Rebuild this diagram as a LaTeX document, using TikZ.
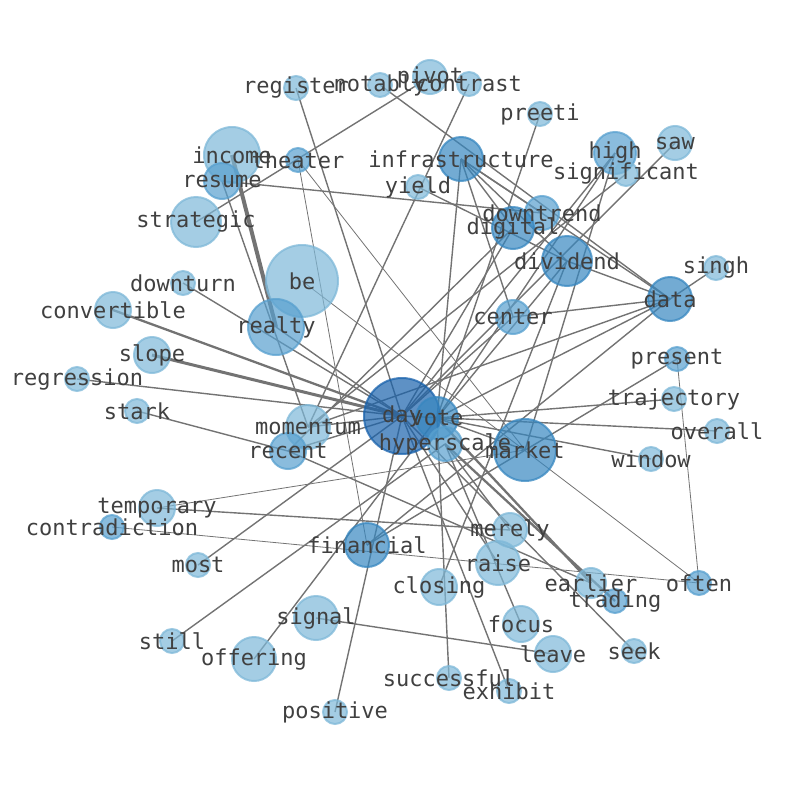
\documentclass[tikz,border=0pt]{standalone}
\usepackage{fontspec}
\newfontfamily\lblfont{DejaVu Sans Mono}
\pgfdeclarelayer{bg}
\pgfdeclarelayer{fg}
\pgfsetlayers{bg,main,fg}
\definecolor{c1}{RGB}{126,184,216}
\definecolor{c2}{RGB}{88,160,207}
\definecolor{c3}{RGB}{55,135,192}
\definecolor{c4}{RGB}{25,98,172}
\definecolor{edgec}{RGB}{115,115,115}
\definecolor{txtc}{RGB}{64,64,64}
\tikzset{
  nd/.style={circle,inner sep=0pt,outer sep=0pt,fill opacity=0.7,draw opacity=0.75,line width=2pt},
  lab/.style={inner sep=0pt,text=txtc,font=\lblfont\fontsize{22}{22}\selectfont},
  ed/.style={draw=edgec,line width=1.4pt},
  edthin/.style={draw=edgec,line width=0.8pt},
  edthick/.style={draw=edgec,line width=2.3pt},
  edheavy/.style={draw=edgec,line width=3pt},
  edhuge/.style={draw=edgec,line width=4pt}
}
\newcommand\N[5]{%
  \node[nd,fill=#5,draw=#5,minimum size={2*#4pt-2pt}] (n#1) at (#2,#3) {};
  \begin{pgfonlayer}{fg}\node[lab] (t#1) at (#2,#3) {#1};\end{pgfonlayer}}
\newcommand\E[3][ed]{\begin{pgfonlayer}{bg}\draw[#1] (n#2.center) -- (n#3.center);\end{pgfonlayer}}
\begin{document}
\begin{tikzpicture}[x=1pt,y=-1pt]
\useasboundingbox (0,0) rectangle (794,790);
\N{pivot}{430}{77}{18}{c1}
\N{notably}{380}{85}{13}{c1}
\N{contrast}{469}{84}{13}{c1}
\N{register}{296}{88}{13}{c1}
\N{preeti}{540}{114}{13}{c1}
\N{infrastructure}{461}{159}{23}{c3}
\N{high}{615}{153}{22}{c2}
\N{significant}{626}{174}{13}{c1}
\N{saw}{675}{143}{18}{c1}
\N{income}{232}{155}{29}{c1}
\N{theater}{298}{160}{13}{c2}
\N{resume}{222}{181}{19}{c2}
\N{yield}{418}{187}{13}{c1}
\N{downtrend}{542}{213}{18}{c2}
\N{digital}{513}{228}{22}{c3}
\N{strategic}{196}{222}{26}{c1}
\N{dividend}{567}{261}{26}{c3}
\N{singh}{716}{268}{13}{c1}
\N{downturn}{183}{283}{13}{c1}
\N{be}{302}{281}{37}{c1}
\N{data}{670}{299}{23}{c3}
\N{convertible}{113}{310}{19}{c1}
\N{realty}{276}{327}{29}{c2}
\N{center}{513}{317}{18}{c2}
\N{slope}{152}{355}{19}{c1}
\N{present}{677}{359}{13}{c2}
\N{regression}{77}{379}{13}{c1}
\N{trajectory}{674}{399}{13}{c1}
\N{stark}{137}{411}{13}{c1}
\N{day}{402}{416}{39}{c4}
\N{vote}{437}{418}{22}{c3}
\N{momentum}{308}{427}{23}{c1}
\N{overall}{717}{431}{13}{c1}
\N{hyperscale}{445}{444}{18}{c2}
\N{market}{525}{450}{32}{c3}
\N{recent}{288}{451}{19}{c2}
\N{window}{651}{459}{13}{c1}
\N{temporary}{157}{508}{19}{c1}
\N{contradiction}{112}{527}{13}{c2}
\N{merely}{510}{530}{18}{c1}
\N{financial}{367}{545}{23}{c3}
\N{raise}{498}{563}{23}{c1}
\N{most}{198}{565}{13}{c1}
\N{closing}{439}{587}{19}{c1}
\N{earlier}{591}{583}{16}{c1}
\N{often}{699}{583}{13}{c2}
\N{trading}{615}{601}{13}{c2}
\N{focus}{521}{624}{19}{c1}
\N{signal}{316}{618}{23}{c1}
\N{still}{172}{641}{13}{c1}
\N{offering}{254}{659}{23}{c1}
\N{leave}{553}{654}{19}{c1}
\N{seek}{634}{651}{13}{c1}
\N{successful}{449}{678}{13}{c1}
\N{exhibit}{509}{691}{13}{c1}
\N{positive}{335}{712}{13}{c1}
% edges
\E{register}{day}
\E{strategic}{pivot}
\E{notably}{data}
\E{contrast}{momentum}
\E{preeti}{vote}
\E{infrastructure}{downtrend}
\E{infrastructure}{digital}
\E{infrastructure}{dividend}
\E{infrastructure}{data}
\E{infrastructure}{center}
\E{infrastructure}{vote}
\E{yield}{dividend}
\E{resume}{downtrend}
\E[edhuge]{income}{realty}
\E{resume}{momentum}
\E[edthin]{theater}{financial}
\E[edthin]{theater}{market}
\E[edthin]{be}{often}
\E[edthin]{contradiction}{often}
\E{saw}{day}
\E{significant}{momentum}
\E{high}{day}
\E{high}{vote}
\E{high}{market}
\E{present}{financial}
\E[edthin]{present}{often}
\E{trajectory}{vote}
\E{overall}{day}
\E{window}{vote}
\E{data}{vote}
\E{data}{momentum}
\E{center}{data}
\E{center}{day}
\E{digital}{day}
\E{digital}{recent}
\E{dividend}{data}
\E{dividend}{vote}
\E{singh}{data}
\E[edthick]{convertible}{day}
\E[edheavy]{slope}{day}
\E{regression}{day}
\E{downturn}{day}
\E{realty}{day}
\E{recent}{day}
\E{momentum}{day}
\E{stark}{recent}
\E{recent}{earlier}
\E{still}{hyperscale}
\E{most}{day}
\E{offering}{vote}
\E{signal}{leave}
\E{positive}{day}
\E{temporary}{merely}
\E[edthin]{temporary}{market}
\E{financial}{data}
\E{successful}{vote}
\E{exhibit}{day}
\E{focus}{hyperscale}
\E{closing}{dividend}
\E{raise}{day}
\E[edthick]{vote}{earlier}
\E[edthick]{hyperscale}{trading}
\E{day}{seek}
\E{market}{vote}
\E{hyperscale}{merely}
\end{tikzpicture}
\end{document}
